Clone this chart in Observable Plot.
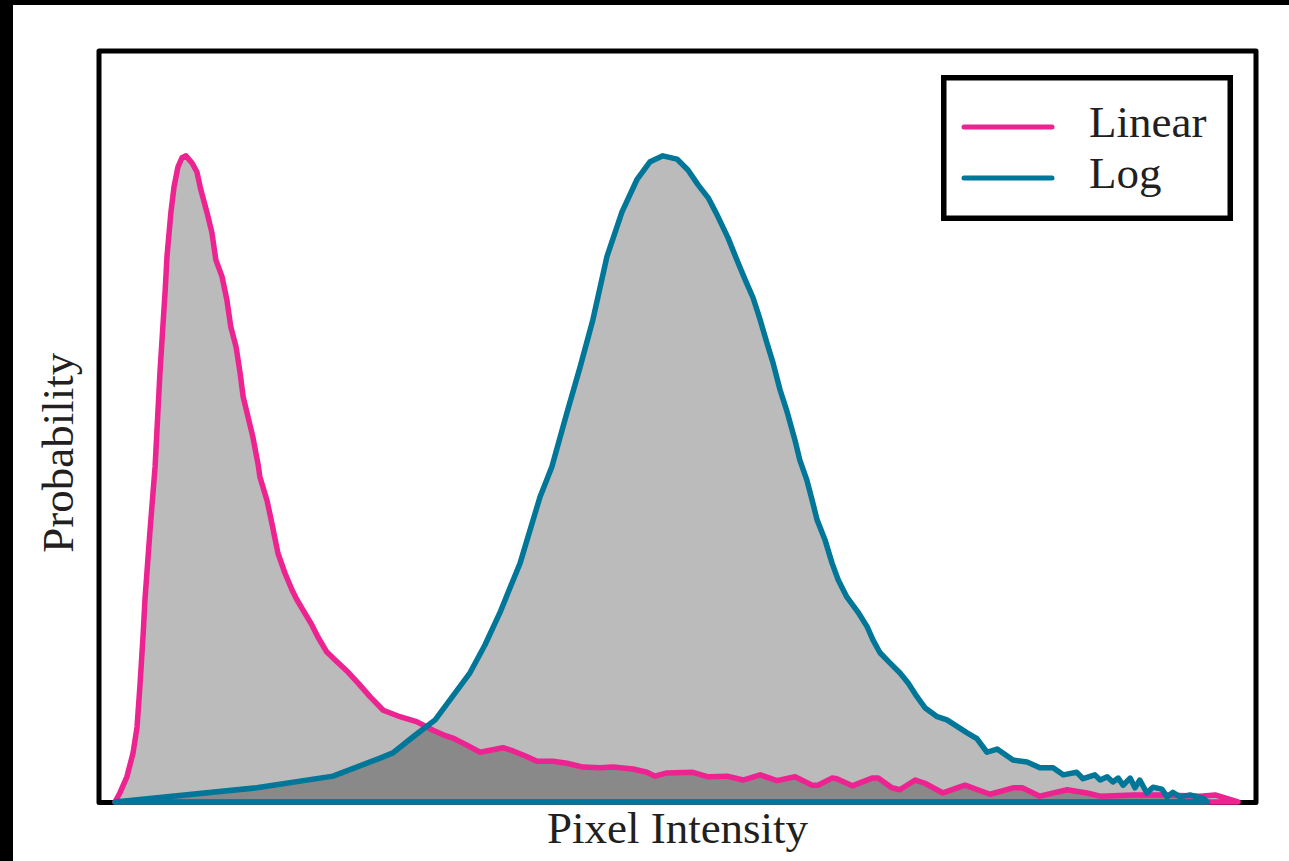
<!DOCTYPE html>
<html><head><meta charset="utf-8">
<script src="https://cdn.jsdelivr.net/npm/d3@7"></script>
<script src="https://cdn.jsdelivr.net/npm/@observablehq/plot@0.6"></script>
<style>
html,body{margin:0;padding:0;background:#fff;}
#wrap{position:relative;width:1289px;height:861px;overflow:hidden;}
#chart{position:absolute;left:0;top:0;}
.strip{position:absolute;background:#000;}
#legend{position:absolute;left:941px;top:75px;}
</style></head><body>
<div id="wrap"><div id="chart"></div>
<div class="strip" style="left:0;top:0;width:1289px;height:5px"></div>
<div class="strip" style="left:0;top:0;width:13px;height:861px"></div>
<svg id="legend" width="292" height="146"></svg>
</div>
<script>
// Pixel intensity (0-255) and probability (relative, peak = 100)
const linearX = [0,1.1,2.7,4.1,5.0,5.7,6.4,6.8,7.9,9.1,10.2,11.4,11.8,12.7,13.4,14.3,15.2,16.1,17.5,18.6,19.5,20.9,22.0,22.9,24.3,25.4,26.3,27.5,28.4,29.1,30.2,31.3,32.5,32.9,34.5,35.6,37.0,38.6,40.2,41.3,42.7,44.7,46.1,48.1,50.4,52.9,55.2,57.9,60.9,64.7,68.6,72.2,74.5,76.7,79.9,82.9,85.2,88.1,90.4,93.6,95.8,99.5,102.6,106.3,110.1,113.1,117.6,120.8,122.6,125.3,131.2,134.7,139.0,142.6,146.5,150.3,154.4,158.3,159.6,162.8,163.9,167.4,171.9,173.3,176.4,178.2,181.7,183.9,188.0,193.0,198.7,203.9,206.0,210.0,216.2,220.7,223.7,231.2,238.9,246.4,249.8,255];
const linearY = [0,1.4,3.9,7.6,11.6,18.4,26.1,31.3,41.6,51.9,66.4,79.3,84.4,91.3,95.2,98.3,99.7,100,98.9,97.5,94.7,91.2,88.1,83.9,81.3,77.7,73.5,70.4,66.4,62.7,59.6,56.5,52.2,50.3,46.7,43.2,38.5,35.4,32.8,31.3,29.7,27.4,25.5,23.2,21.7,20.1,18.4,16.3,14.2,13.2,12.4,11.1,10.4,9.9,8.8,7.7,8.0,8.4,7.9,7.0,6.3,6.3,6.0,5.4,5.3,5.4,5.1,4.6,4.0,4.5,4.6,3.9,4.0,3.4,4.2,3.3,3.9,2.6,2.6,3.7,3.6,2.5,3.7,3.7,2.2,1.9,3.4,2.9,1.4,2.6,1.2,2.2,2.2,0.9,1.9,1.4,0.9,1.1,1.1,0.9,1.1,0];
const logX = [0,32.2,49.5,60.2,63.1,67.7,72.7,80.6,84.0,87.4,92.0,96.5,99.2,102.6,105.6,108.5,111.7,115.1,118.5,121.5,124.4,127.6,130.1,132.4,134.7,136.9,139.2,141.5,143.1,144.9,146.5,148.0,149.4,151.0,152.6,154.4,155.5,157.1,158.3,159.4,161.2,162.8,164.2,166.2,168.7,170.8,172.1,173.7,176.0,178.2,180.1,182.1,183.9,186.7,188.9,193.5,195.7,198.0,200.3,203.9,207.1,210.0,213.0,215.3,218.4,219.8,222.5,223.7,225.3,226.6,227.8,228.9,230.5,231.6,232.7,234.3,235.7,237.7,238.9,240.2,241.8,244.1,245.7,247.1,248.0];
const logY = [0,2.2,4.0,6.8,7.6,10.1,12.7,20.0,24.3,29.3,37.0,47.2,51.9,60.2,67.3,74.6,84.4,91.3,96.3,99.1,100,99.5,97.8,95.5,93.5,90.6,87.3,83.4,80.8,78.0,74.6,71.1,68.0,63.8,60.4,56.0,52.9,49.8,46.7,43.7,40.6,37.0,34.4,31.7,29.4,27.1,25.1,23.1,21.5,20.0,18.4,16.3,14.6,13.2,12.7,10.7,9.8,7.7,8.2,6.5,6.2,5.3,5.3,4.2,4.6,3.6,4.2,3.4,3.9,3.1,3.7,2.6,3.7,2.2,3.4,1.4,2.3,2.0,0.8,1.5,0.8,1.1,0.8,0.6,0];
const seriesNames = ["Linear", "Log"];
const seriesColors = ["#ec2390", "#007699"];
const xLabel = "Pixel Intensity";
const yLabel = "Probability";

const linear = linearX.map((x, i) => ({x, y: linearY[i]}));
const log = logX.map((x, i) => ({x, y: logY[i]}));
const serif = "'Liberation Serif', 'Times New Roman', serif";
const ink = "#231f20";
const lineStyle = {strokeWidth: 5.5, strokeLinejoin: "round", strokeLinecap: "round", fill: "none"};

const plot = Plot.plot({
  width: 1289, height: 861,
  marginLeft: 98.5, marginRight: 33.5, marginTop: 50.5, marginBottom: 59,
  x: {domain: [-3.75, 258.97], axis: null},
  y: {domain: [0, 116.3], axis: null},
  style: {background: "transparent"},
  marks: [
    Plot.frame({stroke: "#000", strokeWidth: 5, strokeLinejoin: "round"}),
    Plot.areaY(linear, {x: "x", y: "y", fill: "#000", fillOpacity: 0.265}),
    Plot.areaY(log, {x: "x", y: "y", fill: "#000", fillOpacity: 0.265}),
    Plot.areaY(linear, {x: "x", y: "y", stroke: seriesColors[0], ...lineStyle}),
    Plot.areaY(log, {x: "x", y: "y", stroke: seriesColors[1], ...lineStyle}),
    Plot.text([yLabel], {text: d => d, frameAnchor: "left", textAnchor: "middle", lineAnchor: "middle", rotate: -90, dx: -40, dy: 26, fontSize: 45, fontFamily: serif, fill: ink}),
    Plot.text([xLabel], {text: d => d, frameAnchor: "bottom", textAnchor: "middle", lineAnchor: "middle", dy: 26, fontSize: 45, fontFamily: serif, fill: ink})
  ]
});
document.getElementById("chart").appendChild(plot);

// Legend
const lg = d3.select("#legend");
lg.append("rect").attr("x", 2.75).attr("y", 2.75).attr("width", 286.5).attr("height", 140.5)
  .attr("fill", "#fff").attr("stroke", "#000").attr("stroke-width", 5.5);
seriesNames.forEach((name, i) => {
  const cy = 52 + i * 51;
  lg.append("line").attr("x1", 23).attr("x2", 111).attr("y1", cy).attr("y2", cy)
    .attr("stroke", seriesColors[i]).attr("stroke-width", 5).attr("stroke-linecap", "round");
  lg.append("text").attr("x", 148).attr("y", cy + 10).attr("font-size", 45)
    .attr("font-family", serif).attr("fill", ink).text(name);
});
</script>
</body></html>
